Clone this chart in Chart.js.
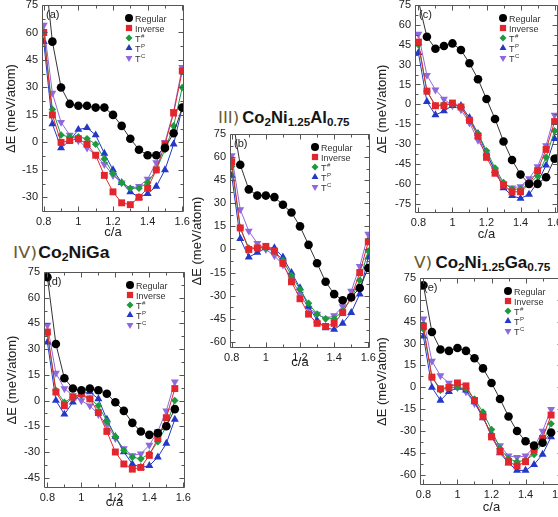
<!DOCTYPE html>
<html><head><meta charset="utf-8">
<script src="https://cdn.jsdelivr.net/npm/chart.js@4.4.0/dist/chart.umd.min.js"></script>
<style>
html,body{margin:0;padding:0;background:#fff;width:558px;height:517px;overflow:hidden;position:relative;font-family:"Liberation Sans",Arial,sans-serif}
canvas{position:absolute}
.ttl{position:absolute;font-weight:bold;color:#151515;white-space:nowrap;line-height:1;font-size:16px;transform-origin:0 0}
.ttl .n{font-weight:normal;color:#6a5a30;font-family:"DejaVu Sans",sans-serif;margin-right:3px}
.ttl sub{font-size:0.7em;vertical-align:-0.3em}
</style>
</head><body>
<div class="ttl" style="left:218px;top:110px;transform:scaleX(1.04)"><span class="n">III)</span>Co<sub>2</sub>Ni<sub>1.25</sub>Al<sub>0.75</sub></div>
<div class="ttl" style="left:13px;top:245px;transform:scaleX(1.1)"><span class="n" style="margin-right:1px">IV)</span>Co<sub>2</sub>NiGa</div>
<div class="ttl" style="left:414px;top:255px;transform:scaleX(1.06)"><span class="n">V)</span>Co<sub>2</sub>Ni<sub>1.25</sub>Ga<sub>0.75</sub></div>
<canvas id="ca"></canvas><canvas id="cb"></canvas><canvas id="cc"></canvas><canvas id="cd"></canvas><canvas id="ce"></canvas>
<script>
// ---------- data ----------
const caFull  = [0.8,0.85,0.9,0.95,1.0,1.05,1.1,1.15,1.2,1.25,1.3,1.35,1.4,1.45,1.5,1.55,1.6];
const caShort = [0.8,0.85,0.9,0.95,1.0,1.05,1.1,1.15,1.2,1.25,1.3,1.35,1.4,1.45,1.5,1.55];

const seriesNames = ['Regular','Inverse','T','T','T'];
const seriesSup   = ['','','#','P','C'];

const xTickValues = [0.8,1,1.2,1.4,1.6];
const yTicksA = [75,60,45,30,15,0,-15,-30];
const yTicksB = [75,60,45,30,15,0,-15,-30,-45,-60];
const yTicksC = [75,60,45,30,15,0,-15,-30,-45,-60,-75];
const yTicksD = [75,60,45,30,15,0,-15,-30,-45];
const yTicksE = [75,60,45,30,15,0,-15,-30,-45,-60];

// (a)
const regularA = [100,55,30,21,20,20,19,19,15,9,2,-4,-7,-7,-3,5,19];
const inverseA = [60,15,0,1,2,-1,-7,-18,-27,-33,-34,-30,-25,-15,-1,16,39];
const tSharpA  = [60,18,4,3,3,2,-1,-9,-17,-22,-25,-25,-22,-15,-4,9,30];
const tPA      = [55,10,-3,1,7,8,4,-6,-15,-22,-27,-30,-28,-24,-15,-1,19];
const tCA      = [64,27,11,4,1,-3,-7,-12,-18,-22,-25,-24,-20,-11,0,17,41];
// (b)
const regularB = [88,55,39,35,35,34,29,24,15,3,-9,-21,-29,-33,-31,-25,-12];
const inverseB = [57,14,0,1,2,-1,-9,-21,-32,-42,-48,-50,-48,-41,-31,-15,5];
const tSharpB  = [54,14,1,1,1,-1,-7,-17,-26,-35,-42,-45,-45,-40,-32,-20,-1];
const tPB      = [48,7,-5,-2,1,1,-5,-15,-25,-37,-46,-51,-52,-48,-41,-29,-5];
const tCB      = [61,26,12,4,0,-4,-10,-19,-29,-38,-42,-45,-43,-37,-27,-11,10];
// (c)
const regularC = [78,51,42,44,46,41,31,19,4,-11,-28,-42,-53,-60,-60,-55,-41];
const inverseC = [47,10,-1,-1,1,-2,-12,-24,-40,-52,-61,-66,-66,-60,-50,-34,-13];
const tSharpC  = [45,10,-1,0,0,-2,-12,-22,-35,-48,-59,-64,-64,-60,-54,-40,-20];
const tPC      = [39,2,-8,-5,-1,-1,-10,-22,-37,-50,-63,-69,-71,-68,-59,-46,-26];
const tCC      = [53,22,11,4,-1,-4,-14,-27,-38,-50,-60,-63,-62,-56,-47,-31,-8];
// (d)
const regularD = [72,33,13,7,6,7,6,4,-1,-6,-13,-18,-20,-19,-15,-5];
const inverseD = [40,5,-3,2,4,1,-7,-18,-30,-37,-40,-39,-32,-22,-10,7];
const tSharpD  = [39,6,-1,2,3,1,-3,-12,-21,-29,-33,-34,-31,-24,-15,0];
const tPD      = [34,0,-8,-1,4,5,1,-11,-21,-30,-37,-39,-38,-33,-25,-11];
const tCD      = [44,16,7,3,0,-3,-8,-14,-22,-28,-32,-31,-26,-18,-6,11];
// (e)
const regularE = [70,38,26,25,27,25,20,13,3,-8,-20,-30,-37,-40,-38,-31];
const inverseE = [42,7,-1,0,3,1,-9,-20,-34,-44,-51,-54,-51,-43,-35,-19];
const tSharpE  = [40,7,-2,0,0,-1,-8,-17,-29,-42,-49,-51,-50,-46,-38,-25];
const tPE      = [35,0,-9,-3,0,-2,-10,-21,-32,-45,-52,-57,-57,-53,-46,-34];
const tCE      = [47,18,8,3,0,-3,-11,-20,-33,-40,-47,-48,-47,-41,-30,-15];

// ---------- styles ----------
const COLORS = ['#000000','#e3262d','#1d9a3e','#2438c8','#8e68de'];
const LINECOLORS = ['#333333','#e3262d','#1d9a3e','#2438c8','#8e68de'];
const STYLES = ['circle','rect','rectRot','triangle','triangle'];
const ROT = [0,0,0,0,180];
const RADII = [4.3,4.9,3.8,4.6,4.6];
const FONT = '"Liberation Sans", Arial, sans-serif';

const panels = [
  {id:'ca', label:'(a)', xs:caFull, series:[regularA,inverseA,tSharpA,tPA,tCA], yTicks:yTicksA,
   yMin:-38, yMax:75, xMin:0.79, xMax:1.61, plot:[42,5,184,212], yAxisW:42, topPad:10, xAxisH:28, rightPad:6, yTitlePad:5, xTitlePad:0},
  {id:'cb', label:'(b)', xs:caFull, series:[regularB,inverseB,tSharpB,tPB,tCB], yTicks:yTicksB,
   yMin:-64, yMax:75, xMin:0.79, xMax:1.61, plot:[230,134,370,348], yAxisW:45, topPad:10, xAxisH:26, rightPad:6, yTitlePad:6, xTitlePad:4},
  {id:'cc', label:'(c)', xs:caFull, series:[regularC,inverseC,tSharpC,tPC,tCC], yTicks:yTicksC,
   yMin:-82, yMax:75, xMin:0.78, xMax:1.62, plot:[415,5,558,213], yAxisW:45, topPad:10, xAxisH:29, rightPad:6, yTitlePad:6, xTitlePad:0},
  {id:'cd', label:'(d)', xs:caShort, series:[regularD,inverseD,tSharpD,tPD,tCD], yTicks:yTicksD,
   yMin:-51, yMax:75, xMin:0.78, xMax:1.61, plot:[44,272,185,488], yAxisW:44, topPad:10, xAxisH:29, rightPad:6, yTitlePad:6, xTitlePad:7},
  {id:'ce', label:'(e)', xs:caShort, series:[regularE,inverseE,tSharpE,tPE,tCE], yTicks:yTicksE,
   yMin:-67, yMax:75, xMin:0.78, xMax:1.62, plot:[420,278,563,485], yAxisW:46, topPad:10, xAxisH:32, rightPad:6, yTitlePad:2, xTitlePad:2}
];

function marker(ctx, style, rot, x, y, r){
  ctx.beginPath();
  if (style==='circle'){ ctx.arc(x,y,r,0,Math.PI*2); }
  else if (style==='rect'){ const s=r*Math.SQRT1_2; ctx.rect(x-s,y-s,2*s,2*s); }
  else if (style==='rectRot'){ ctx.moveTo(x,y-r);ctx.lineTo(x+r,y);ctx.lineTo(x,y+r);ctx.lineTo(x-r,y);ctx.closePath(); }
  else { const d = rot?-1:1; const h=r*0.866; ctx.moveTo(x,y-d*r);ctx.lineTo(x+h,y+d*r/2);ctx.lineTo(x-h,y+d*r/2);ctx.closePath(); }
  ctx.fill();
}

function decorPlugin(p){
  return { id:'decor', afterDraw(chart){
    const ctx = chart.ctx, a = chart.chartArea, xs = chart.scales.x, ys = chart.scales.y;
    ctx.save();
    ctx.strokeStyle = '#555'; ctx.lineWidth = 1;
    const L=Math.round(a.left)+0.5, R=Math.round(a.right)-0.5, T=Math.round(a.top)+0.5, B=Math.round(a.bottom)-0.5;
    ctx.beginPath();
    ctx.rect(L,T,R-L,B-T);
    for (let k=0;k<=8;k++){
      const v = 0.8 + k*0.1; const px = Math.round(xs.getPixelForValue(v))+0.5;
      const len = (k%2===0)?5:3;
      ctx.moveTo(px,B); ctx.lineTo(px,B-len);
      ctx.moveTo(px,T); ctx.lineTo(px,T+len);
    }
    const ymax = p.yTicks[0], ymin = p.yTicks[p.yTicks.length-1];
    for (let v=ymin; v<=ymax; v+=7.5){
      const py = Math.round(ys.getPixelForValue(v))+0.5;
      const len = (Math.abs(v%15)<0.01)?5:3;
      ctx.moveTo(L,py); ctx.lineTo(L+len,py);
      ctx.moveTo(R,py); ctx.lineTo(R-len,py);
    }
    ctx.stroke();
    ctx.fillStyle = '#222';
    ctx.font = '11px ' + FONT;
    ctx.textBaseline = 'alphabetic'; ctx.textAlign='left';
    ctx.fillText(p.label, a.left+4, a.top+13);
    for (let i=0;i<5;i++){
      const mx = a.right-55, my = a.top+13+i*10;
      ctx.fillStyle = COLORS[i];
      marker(ctx, STYLES[i], ROT[i], mx, my, i===1?4.4:(i===2?3.5:4));
      ctx.fillStyle = '#333';
      ctx.font = '9px ' + FONT;
      ctx.fillText(seriesNames[i], mx+6, my+3.5);
      if (seriesSup[i]){
        const w = ctx.measureText(seriesNames[i]).width;
        ctx.font = '6px ' + FONT;
        ctx.fillText(seriesSup[i], mx+6+w+0.5, my-0.5);
      }
    }
    ctx.restore();
  }};
}

panels.forEach(p=>{
  const [L,T,R,B] = p.plot;
  const cv = document.getElementById(p.id);
  const left = L - p.yAxisW, top = T - p.topPad;
  const w = (R-L) + p.yAxisW + p.rightPad, h = (B-T) + p.topPad + p.xAxisH;
  cv.style.left = left+'px'; cv.style.top = top+'px';
  cv.width = w; cv.height = h; cv.style.width = w+'px'; cv.style.height = h+'px';
  const datasets = p.series.map((s,i)=>({
    label: seriesNames[i]+seriesSup[i],
    data: p.xs.map((x,j)=>({x:x, y:s[j]})),
    borderColor: LINECOLORS[i], backgroundColor: COLORS[i],
    pointBackgroundColor: COLORS[i], pointBorderColor: COLORS[i], pointBorderWidth: 0,
    pointStyle: STYLES[i], rotation: ROT[i], pointRadius: RADII[i],
    borderWidth: 1, tension: 0, fill: false
  }));
  new Chart(cv, {
    type:'line',
    data:{datasets},
    options:{
      responsive:false, animation:false, devicePixelRatio:1,
      layout:{padding:{left:0, top:p.topPad, right:p.rightPad, bottom:0}},
      plugins:{legend:{display:false}, tooltip:{enabled:false}, title:{display:false}},
      scales:{
        x:{type:'linear', min:p.xMin, max:p.xMax,
           grid:{display:false, drawTicks:false}, border:{display:false},
           afterBuildTicks(s){ s.ticks = xTickValues.map(v=>({value:v})); },
           afterFit(s){ s.height = p.xAxisH; s.paddingLeft=0; s.paddingRight=0; },
           ticks:{padding:3, color:'#222', font:{family:FONT, size:11}, maxRotation:0, autoSkip:false,
                  callback:(v)=>String(v)},
           title:{display:true, text:'c/a', color:'#222', padding:{top:0,bottom:p.xTitlePad},
                  font:{family:FONT, size:13}}},
        y:{type:'linear', min:p.yMin, max:p.yMax,
           grid:{display:false, drawTicks:false}, border:{display:false},
           afterBuildTicks(s){ s.ticks = p.yTicks.map(v=>({value:v})); },
           afterFit(s){ s.width = p.yAxisW; s.paddingTop=0; s.paddingBottom=0; },
           ticks:{padding:4, color:'#222', font:{family:FONT, size:11}, autoSkip:false,
                  callback:(v)=>String(v)},
           title:{display:true, text:'ΔE (meV/atom)', color:'#222', padding:{top:p.yTitlePad-1,bottom:0},
                  font:{family:FONT, size:13}}}
      }
    },
    plugins:[decorPlugin(p)]
  });
});
</script>
</body></html>
